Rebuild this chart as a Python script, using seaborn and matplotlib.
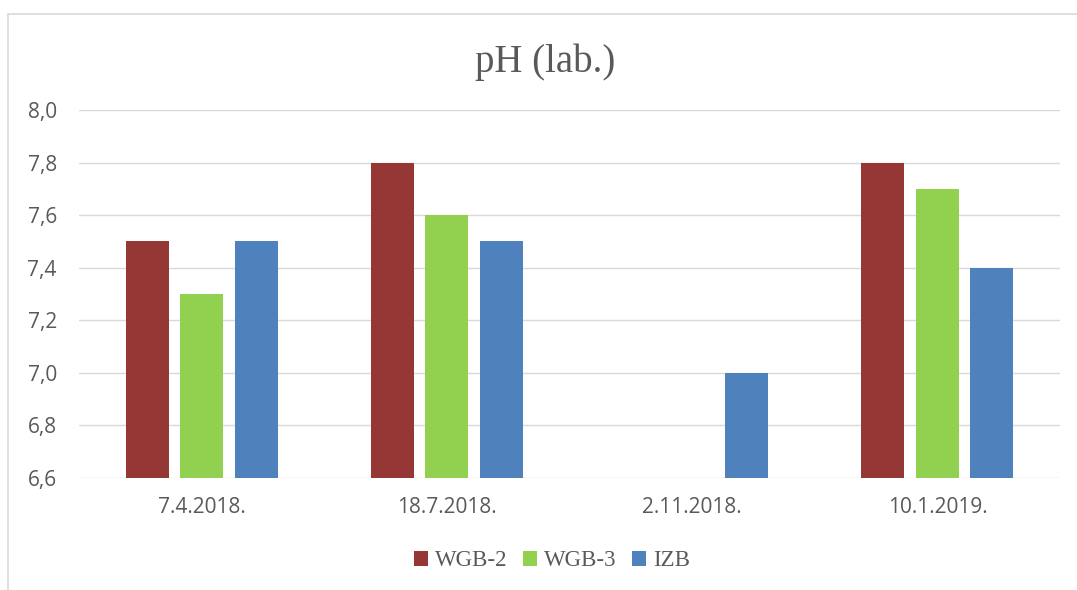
import matplotlib.pyplot as plt
import seaborn as sns
import numpy as np
import pandas as pd

# data
dates = ["7.4.2018.", "18.7.2018.", "2.11.2018.", "10.1.2019."]
wgb2 = [7.5, 7.8, np.nan, 7.8]
wgb3 = [7.3, 7.6, np.nan, 7.7]
izb = [7.5, 7.5, 7.0, 7.4]
series = ["WGB-2", "WGB-3", "IZB"]
colors = ["#953735", "#92D050", "#4F81BD"]
yticks = [6.6, 6.8, 7.0, 7.2, 7.4, 7.6, 7.8, 8.0]

df = pd.DataFrame({"date": dates * 3,
                   "value": wgb2 + wgb3 + izb,
                   "series": np.repeat(series, len(dates))})

sns.set_style("white")
fig = plt.figure(figsize=(10.77, 5.9), dpi=100)
ax = fig.add_axes([79/1077, 1 - 478/590, (1060 - 79)/1077, (478 - 110)/590])

sns.barplot(data=df, x="date", y="value", hue="series", order=dates,
            hue_order=series, palette=colors, width=0.667, gap=0.21,
            saturation=1, linewidth=0, ax=ax, legend=True)

ax.set_ylim(6.6, 8.0)
ax.set_yticks(yticks)
ax.set_yticklabels([f"{t:.1f}".replace(".", ",") for t in yticks])
ax.set_xlim(-0.5, 3.5)
ax.set_xlabel("")
ax.set_ylabel("")
ax.set_axisbelow(True)
ax.yaxis.grid(True, color="#d9d9d9", linewidth=1)
for s in ax.spines.values():
    s.set_visible(False)
ax.tick_params(axis="both", length=0, labelsize=15, colors="#595959")
ax.tick_params(axis="x", pad=14)
ax.tick_params(axis="y", pad=16)
for lbl in ax.get_xticklabels() + ax.get_yticklabels():
    lbl.set_family("Open Sans")

fig.text(545/1077, 1 - 62/590, "pH (lab.)", ha="center", va="center",
         family="Liberation Serif", fontsize=28, color="#595959")

leg = ax.legend(loc="center", bbox_to_anchor=(552/1077, 1 - 561/590),
                bbox_transform=fig.transFigure, ncol=3, frameon=False,
                handlelength=0.6, handleheight=0.6, handletextpad=0.3,
                columnspacing=0.7, prop={"family": "Liberation Serif", "size": 16.5})
for t in leg.get_texts():
    t.set_color("#595959")

# chart border
fig.add_artist(plt.Line2D([8/1077, 8/1077], [0, 1 - 14/590], color="#d9d9d9", lw=1.2, transform=fig.transFigure))
fig.add_artist(plt.Line2D([8/1077, 1], [1 - 14/590, 1 - 14/590], color="#d9d9d9", lw=1.2, transform=fig.transFigure))

fig.savefig("out.png", dpi=100)
